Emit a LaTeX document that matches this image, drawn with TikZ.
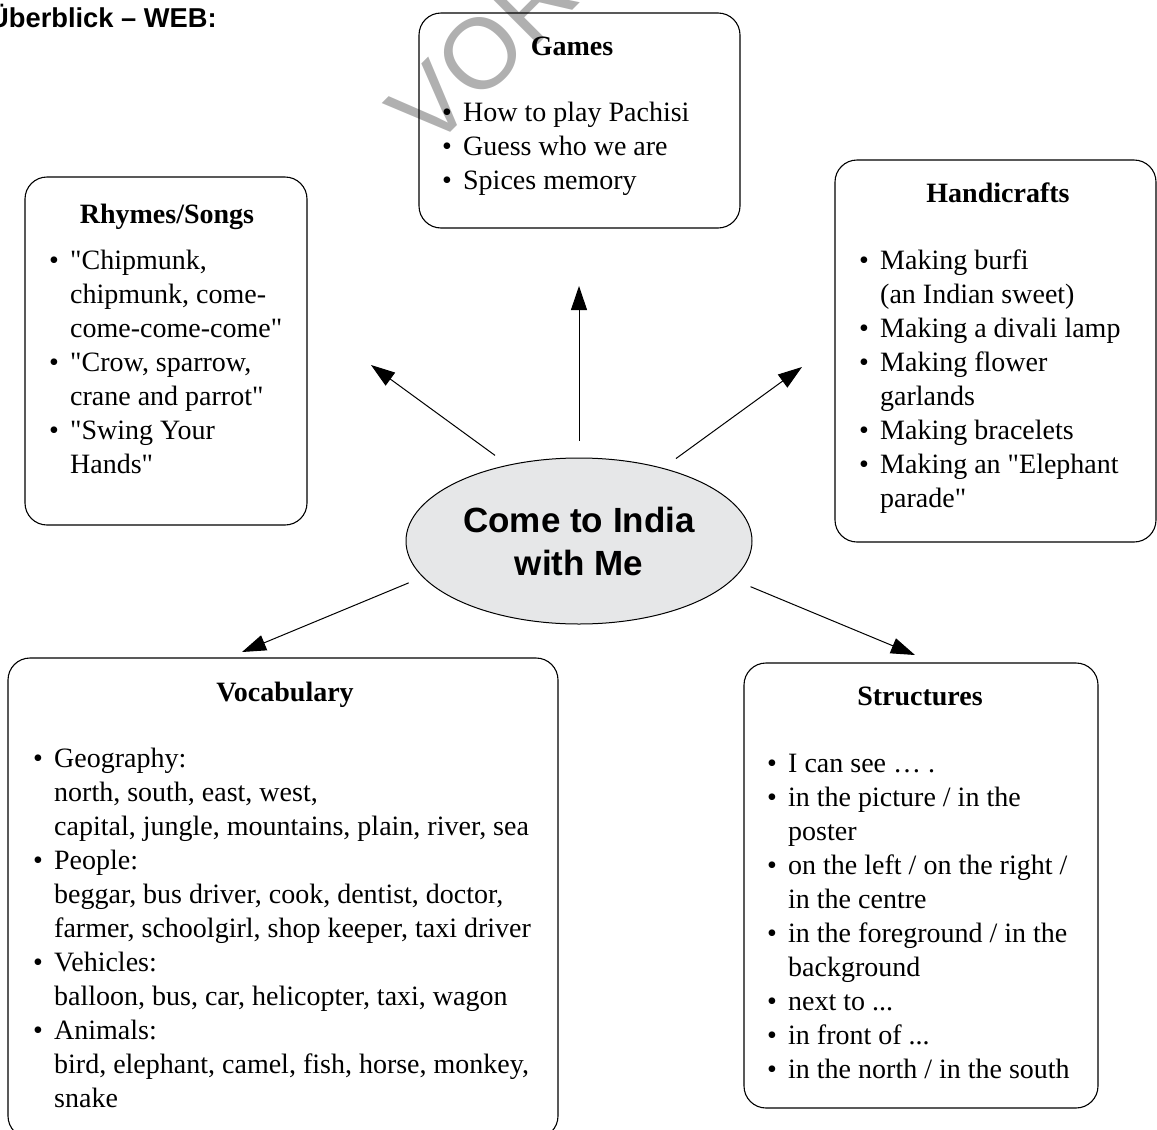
\documentclass[tikz,border=0pt]{standalone}
\usepackage{fontspec}
\setmainfont{Liberation Serif}[Ligatures={Common,TeXOff}]
\newfontfamily\arialf{Liberation Sans}
\usetikzlibrary{arrows.meta,shapes.geometric}
\definecolor{ellfill}{HTML}{E6E7E8}
\definecolor{wmark}{HTML}{B0B0B0}
\newcommand\bl{\makebox[21pt][l]{\textbullet}}
\newcommand\ind{\hspace*{21pt}}
\begin{document}
\begin{tikzpicture}[x=1pt,y=-1pt,
  box/.style={draw, line width=1.1pt, rounded corners=22pt, inner sep=0pt},
  ttl/.style={font=\fontsize{28}{34}\selectfont\bfseries, anchor=base, inner sep=0pt},
  items/.style={font=\fontsize{28}{34}\selectfont, align=left, anchor=north west, inner sep=0pt},
  arr/.style={line width=1pt, -{Triangle[length=24pt,width=16pt]}},
]
\useasboundingbox (0,0) rectangle (1157,1130);

% watermark
\node[font=\arialf\fontsize{100}{100}\selectfont, text=wmark, rotate=45, anchor=base west, inner sep=0pt] (wm) at (430,153) {VOR};

% header
\node[font=\arialf\bfseries\fontsize{27.3}{30}\selectfont, anchor=base west, inner sep=0pt] (hdr) at (-11,27) {Überblick – WEB:};

% boxes
\node[box, minimum width=321pt, minimum height=215pt] (games) at (579.5,120.5) {};
\node[box, minimum width=282pt, minimum height=348pt] (rhymes) at (166,351) {};
\node[box, minimum width=321pt, minimum height=382pt] (hand) at (995.5,351) {};
\node[box, minimum width=550pt, minimum height=480pt] (vocab) at (283,898) {};
\node[box, minimum width=354pt, minimum height=445pt] (struct) at (921,885.5) {};

% titles
\node[ttl] (tgames) at (572,55) {Games};
\node[ttl] (trhymes) at (167,223) {Rhymes/Songs};
\node[ttl] (thand) at (998,202) {Handicrafts};
\node[ttl] (tvocab) at (285,701) {Vocabulary};
\node[ttl] (tstruct) at (920,705) {Structures};

% items
\node[items] (igames) at (442,97.2) {\strut\bl How to play Pachisi\\ \bl Guess who we are\\ \bl Spices memory};
\node[items] (irhymes) at (49,245.2) {\strut\bl "Chipmunk,\\ \ind chipmunk, come-\\ \ind come-come-come"\\ \bl "Crow, sparrow,\\ \ind crane and parrot"\\ \bl "Swing Your\\ \ind Hands"};
\node[items] (ihand) at (859,245.2) {\strut\bl Making burfi\\ \ind (an Indian sweet)\\ \bl Making a divali lamp\\ \bl Making flower\\ \ind garlands\\ \bl Making bracelets\\ \bl Making an "Elephant\\ \ind parade"};
\node[items] (ivocab) at (33,743.2) {\strut\bl Geography:\\ \ind north, south, east, west,\\ \ind capital, jungle, mountains, plain, river, sea\\ \bl People:\\ \ind beggar, bus driver, cook, dentist, doctor,\\ \ind farmer, schoolgirl, shop keeper, taxi driver\\ \bl Vehicles:\\ \ind balloon, bus, car, helicopter, taxi, wagon\\ \bl Animals:\\ \ind bird, elephant, camel, fish, horse, monkey,\\ \ind snake};
\node[items] (istruct) at (767,748.2) {\strut\bl I can see … .\\ \bl in the picture / in the\\ \ind poster\\ \bl on the left / on the right /\\ \ind in the centre\\ \bl in the foreground / in the\\ \ind background\\ \bl next to ...\\ \bl in front of ...\\ \bl in the north / in the south};

% centre
\node[ellipse, draw, line width=1pt, fill=ellfill, minimum width=346pt, minimum height=166pt, inner sep=0pt,
      font=\arialf\bfseries\fontsize{35}{43}\selectfont, align=center] (c) at (579,541) {Come to India\\with Me};

% arrow tips
\coordinate (tG) at (579,286);
\coordinate (tR) at (371,365);
\coordinate (tH) at (802,367);
\coordinate (tV) at (242,652);
\coordinate (tS) at (915,655);

\draw[arr, shorten <=17pt] (c.north) -- (tG);
\draw[arr, shorten <=16pt] (c.133) -- (tR);
\draw[arr, shorten <=16pt] (c.41.6) -- (tH);
\draw[arr, shorten <=15pt] (c.193.6) -- (tV);
\draw[arr, shorten <=19pt] (c.-14.3) -- (tS);
\end{tikzpicture}
\end{document}
